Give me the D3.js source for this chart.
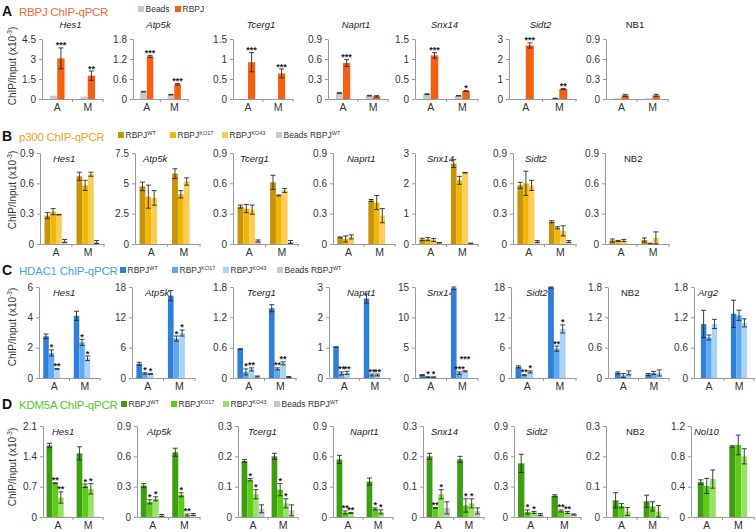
<!DOCTYPE html>
<html><head><meta charset="utf-8">
<script src="https://cdn.jsdelivr.net/npm/d3@7"></script>
<style>body{margin:0;background:#fff}svg{font-family:"Liberation Sans",Arial,sans-serif}</style>
</head><body><svg id="c" width="756" height="532"></svg>
<script>
const groups = ["A","M"];

// ---------- Row A : RBPJ ChIP-qPCR ----------
const seriesA = ["Beads","RBPJ"];
const genesA = ["Hes1","Atp5k","Tcerg1","Naprt1","Snx14","Sidt2","NB1"];
const ymaxA = [4.5,1.8,1.5,0.9,1.5,3,0.9];
const valuesA = [
 [[0.25,3.05],[0.18,1.75]],
 [[0.22,1.28],[0.13,0.44]],
 [[0,0.92],[0,0.64]],
 [[0.09,0.54],[0.05,0.04]],
 [[0.12,1.09],[0.08,0.2]],
 [[0,2.68],[0.03,0.5]],
 [[0.01,0.055],[0.01,0.055]]
];
const errorsA = [
 [[0,0.78],[0,0.35]],
 [[0.01,0.03],[0.01,0.02]],
 [[0,0.24],[0,0.11]],
 [[0.005,0.05],[0.005,0.01]],
 [[0.01,0.07],[0.005,0.01]],
 [[0,0.13],[0.005,0.03]],
 [[0,0.015],[0,0.015]]
];
const starsA = [
 [["","***"],["","**"]],
 [["","***"],["","***"]],
 [["","***"],["","***"]],
 [["","***"],["",""]],
 [["","***"],["","*"]],
 [["","***"],["","**"]],
 [["",""],["",""]]
];

// ---------- Row B : p300 ChIP-qPCR ----------
const seriesB = ["WT","KO17","KO43","Beads"];
const genesB = ["Hes1","Atp5k","Tcerg1","Naprt1","Snx14","Sidt2","NB2"];
const ymaxB = [0.9,7.5,0.9,0.9,3,0.9,0.9];
const valuesB = [
 [[0.28,0.32,0.29,0.03],[0.67,0.58,0.69,0.02]],
 [[4.75,3.9,3.8,0],[5.8,4.1,5.15,0]],
 [[0.37,0.35,0.34,0.03],[0.61,0.48,0.53,0.02]],
 [[0.065,0.05,0.07,0],[0.43,0.41,0.28,0]],
 [[0.15,0.16,0.13,0.04],[2.65,2.1,2.35,0.02]],
 [[0.58,0.6,0.58,0.025],[0.22,0.16,0.13,0.025]],
 [[0.035,0.03,0.035,0],[0.04,0.005,0.06,0]]
];
const errorsB = [
 [[0.03,0.03,0.003,0.015],[0.04,0.05,0.02,0.015]],
 [[0.35,0.95,0.6,0],[0.4,0.3,0.3,0]],
 [[0.015,0.04,0.045,0.01],[0.07,0.005,0.02,0.015]],
 [[0.005,0.03,0.02,0],[0.01,0.07,0.07,0]],
 [[0.04,0.05,0.05,0.01],[0.13,0.13,0.01,0.01]],
 [[0.03,0.12,0.05,0.01],[0.01,0.01,0.05,0.01]],
 [[0.015,0.005,0.01,0],[0.02,0.003,0.06,0]]
];

// ---------- Row C : HDAC1 ChIP-qPCR ----------
const seriesC = ["WT","KO17","KO43","Beads"];
const genesC = ["Hes1","Atp5k","Tcerg1","Naprt1","Snx14","Sidt2","NB2","Arg2"];
const ymaxC = [6,18,1.8,3,15,18,1.8,1.8];
const valuesC = [
 [[2.75,1.65,0.6,0],[4.1,2.35,1.3,0]],
 [[2.8,0.9,0.8,0],[16.3,7.8,8.9,0]],
 [[0.57,0.12,0.17,0.03],[1.38,0.18,0.29,0.02]],
 [[1.02,0.15,0.17,0],[2.62,0.1,0.1,0]],
 [[0.5,0.15,0.15,0],[14.8,0.8,1.1,0]],
 [[2.2,0.6,1.2,0],[17.9,5.8,9.7,0]],
 [[0.1,0.05,0.1],[0.07,0.1,0.1]],
 [[1.07,0.8,1.07],[1.27,1.24,1.09]]
];
const errorsC = [
 [[0.15,0.2,0.02,0],[0.3,0.2,0.15,0]],
 [[0.3,0.15,0.1,0],[1.0,0.5,0.6,0]],
 [[0.01,0.06,0.03,0.01],[0.07,0.02,0.03,0.01]],
 [[0.01,0.05,0.05,0],[0.15,0.03,0.03,0]],
 [[0.05,0.05,0.03,0],[0.2,0.2,0.1,0]],
 [[0.2,0.05,0.2,0],[0.1,0.5,0.8,0]],
 [[0.02,0.04,0.04],[0.02,0.03,0.06]],
 [[0.27,0.05,0.09],[0.27,0.1,0.08]]
];
const starsC = [
 [["","*","**",""],["","*","*",""]],
 [["","*","*",""],["","*","*",""]],
 [["","*","**",""],["","**","**",""]],
 [["","**","**",""],["","**","**",""]],
 [["","*","*",""],["","***","***",""]],
 [["","**","*",""],["","**","*",""]],
 [["","",""],["","",""]],
 [["","",""],["","",""]]
];

// ---------- Row D : KDM5A ChIP-qPCR ----------
const seriesD = ["WT","KO17","KO43","Beads"];
const genesD = ["Hes1","Atp5k","Tcerg1","Naprt1","Snx14","Sidt2","NB2","Nol10"];
const ymaxD = [2.1,0.9,0.3,0.9,0.3,0.9,0.3,1.2];
const valuesD = [
 [[1.65,0.78,0.45,0.01],[1.47,0.72,0.65,0.01]],
 [[0.31,0.15,0.18,0.015],[0.64,0.22,0.02,0.025]],
 [[0.185,0.123,0.075,0.027],[0.2,0.09,0.045,0.022]],
 [[0.57,0.045,0.04,0],[0.35,0.08,0.05,0]],
 [[0.2,0.03,0.075,0.03],[0.19,0.038,0.045,0.02]],
 [[0.53,0.05,0.045,0.025],[0.21,0.06,0.045,0.025]],
 [[0.055,0.037,0.018],[0.052,0.035,0.018]],
 [[0.46,0.41,0.5],[0.93,0.95,0.8]]
];
const errorsD = [
 [[0.05,0.01,0.13,0],[0.15,0.04,0.12,0]],
 [[0.02,0.02,0.02,0.01],[0.04,0.02,0.01,0.01]],
 [[0.005,0.004,0.015,0.013],[0.01,0.02,0.015,0.018]],
 [[0.04,0.015,0.005,0],[0.035,0.01,0.02,0]],
 [[0.01,0.001,0.015,0.02],[0.01,0.022,0.015,0.01]],
 [[0.09,0.02,0.01,0.01],[0.01,0.01,0.01,0.005]],
 [[0.025,0.007,0.013],[0.02,0.015,0.02]],
 [[0.03,0.1,0.12],[0.01,0.13,0.1]]
];
const starsD = [
 [["","**","**",""],["","*","*",""]],
 [["","*","*",""],["","*","**",""]],
 [["","*","*",""],["","*","*",""]],
 [["","**","**",""],["","*","*",""]],
 [["","**","*",""],["","*","*",""]],
 [["","*","*",""],["","**","**",""]],
 [["","",""],["","",""]],
 [["","",""],["","",""]]
];

// ---------- layout & style (separate from data) ----------
const rows = [
 {letter:"A", title:"RBPJ ChIP-qPCR", titleColor:"#f26a2e", baseY:16,
  series:seriesA, genes:genesA, ymax:ymaxA, values:valuesA, errors:errorsA, stars:starsA,
  colors:["#c3cbcb","#f75f12"], legendX:[138,175], legendY:9, legendLabels:[["Beads",""],["RBPJ",""]],
  top:39, bottom:99, x0:[42,133,233,328,415,509,606], w:[61,55,60,60,63,67,62],
  titleInside:false, barFrac:0.24, ylabY:66},
 {letter:"B", title:"p300 ChIP-qPCR", titleColor:"#e6a520", baseY:141,
  series:seriesB, genes:genesB, ymax:ymaxB, values:valuesB, errors:errorsB, stars:null,
  colors:["#c8920c","#f2b705","#fdcc58","#c3cbcb"], legendX:[118,170,222,276], legendY:135,
  legendLabels:[["RBPJ","WT"],["RBPJ","KO17"],["RBPJ","KO43"],["Beads RBPJ","WT"]],
  top:153, bottom:244, x0:[40,135,233,333,415,513,605], w:[64,65,65,62,63,63,64],
  titleInside:true, titleOff:[13,8,7,14,12,12,19], barFrac:0.18, ylabY:190},
 {letter:"C", title:"HDAC1 ChIP-qPCR", titleColor:"#4d9fe8", baseY:275,
  series:seriesC, genes:genesC, ymax:ymaxC, values:valuesC, errors:errorsC, stars:starsC,
  colors:["#2f7fd8","#5eaaf2","#a9d3f8","#c3cbcb"], legendX:[120,172,223,277], legendY:270,
  legendLabels:[["RBPJ","WT"],["RBPJ","KO17"],["RBPJ","KO43"],["Beads RBPJ","WT"]],
  top:287, bottom:378, x0:[39,132,233,329,415,511,608,694], w:[61,63,63,61,63,65,61,60],
  titleInside:true, titleOff:[14,13,14,18,12,15,13,4], barFrac:0.18, ylabY:327},
 {letter:"D", title:"KDM5A ChIP-qPCR", titleColor:"#55c72b", baseY:409,
  series:seriesD, genes:genesD, ymax:ymaxD, values:valuesD, errors:errorsD, stars:starsD,
  colors:["#3e9d12","#5acd17","#97e264","#c3cbcb"], legendX:[121,171,223,274], legendY:404,
  legendLabels:[["RBPJ","WT"],["RBPJ","KO17"],["RBPJ","KO43"],["Beads RBPJ","WT"]],
  top:426, bottom:517, x0:[43,137,238,333,423,514,606,691], w:[60,63,60,60,61,67,62,63],
  titleInside:true, titleOff:[9,10,10,17,8,12,20,3], barFrac:0.19, ylabY:467}
];

const svg = d3.select("#c");
const axisCol = "#9a9a9a", textCol = "#333";
const fmt = v => String(+v.toFixed(3));
const FF = "Liberation Sans, Arial, sans-serif";
const starW = 3.5; // approx width of one asterisk at 9px

rows.forEach(r => {
  // panel letter + title
  svg.append("text").attr("x",2).attr("y",r.baseY).attr("font-size",14).attr("font-weight","bold")
    .attr("fill","#111").text(r.letter);
  svg.append("text").attr("x",19).attr("y",r.baseY).attr("font-size",11.5).attr("letter-spacing",-0.25)
    .attr("fill",r.titleColor).text(r.title);
  // legend
  r.legendLabels.forEach((lab,i) => {
    const lx = r.legendX[i];
    svg.append("rect").attr("x",lx).attr("y",r.legendY-3).attr("width",6).attr("height",6).attr("fill",r.colors[i]);
    const t = svg.append("text").attr("x",lx+7.5).attr("y",r.legendY+3).attr("font-size",8.5).attr("fill",textCol);
    t.append("tspan").text(lab[0]);
    if (lab[1]) t.append("tspan").attr("dy",-3.5).attr("font-size",5.5).text(lab[1]);
  });
  // y label
  const yl = svg.append("text").attr("transform",`translate(16,${r.ylabY}) rotate(-90)`)
    .attr("text-anchor","middle").attr("font-size",10).attr("fill",textCol);
  yl.append("tspan").text("ChIP/Input (x10");
  yl.append("tspan").attr("dy",-4).attr("font-size",6.5).text("-3");
  yl.append("tspan").attr("dy",4).text(")");

  r.genes.forEach((g,gi) => {
    const x0 = r.x0[gi], w = r.w[gi];
    const y = d3.scaleLinear().domain([0, r.ymax[gi]]).range([r.bottom, r.top]);
    const x = d3.scaleBand().domain(groups).range([x0, x0+w]).padding(0);
    const ticks = [0,1,2,3].map(i => +(r.ymax[gi]*i/3).toFixed(3));
    const gy = svg.append("g").attr("transform",`translate(${x0},0)`)
      .call(d3.axisLeft(y).tickValues(ticks).tickFormat(fmt).tickSize(3).tickSizeOuter(0));
    gy.select(".domain").attr("stroke",axisCol);
    gy.selectAll(".tick line").attr("stroke",axisCol);
    gy.selectAll(".tick text").attr("fill",textCol).attr("font-size",10).attr("font-family",FF);
    // x axis
    const gx = svg.append("g").attr("transform",`translate(0,${r.bottom})`)
      .call(d3.axisBottom(x).tickSize(0).tickPadding(5));
    gx.select(".domain").attr("stroke",axisCol);
    gx.selectAll(".tick text").attr("fill",textCol).attr("font-size",10.5).attr("font-family",FF);
    svg.append("line").attr("x1",x0+w/2).attr("x2",x0+w/2).attr("y1",r.bottom).attr("y2",r.bottom+3).attr("stroke",axisCol);
    svg.append("line").attr("x1",x0+w).attr("x2",x0+w).attr("y1",r.bottom).attr("y2",r.bottom+3).attr("stroke",axisCol);

    // gene title
    if (r.titleInside) {
      svg.append("text").attr("x",x0+r.titleOff[gi]).attr("y",r.top+9).attr("font-size",9.5)
        .attr("font-style",g.startsWith("NB")?"normal":"italic").attr("fill","#222").text(g);
    } else {
      svg.append("text").attr("x",x0+w/2-2).attr("y",r.top-11).attr("text-anchor","middle").attr("font-size",9.5)
        .attr("font-style",g.startsWith("NB")?"normal":"italic").attr("fill","#222").text(g);
    }

    // bars
    const bw = x.bandwidth()*r.barFrac;
    groups.forEach((grp,ki) => {
      const vals = r.values[gi][ki], errs = r.errors[gi][ki];
      const n = vals.length;
      const cx = x(grp) + x.bandwidth()/2;
      const start = cx - n*bw/2;
      let last = null;
      vals.forEach((v,si) => {
        const bx = start + si*bw;
        svg.append("rect").attr("x",bx).attr("y",y(v)).attr("width",bw).attr("height",Math.max(0,r.bottom-y(v)))
          .attr("fill",r.colors[si]);
        const e = errs[si];
        if (e > 0) {
          const mx = bx + bw/2;
          const eg = svg.append("g").attr("stroke","#2a2a2a").attr("stroke-width",0.9);
          eg.append("line").attr("x1",mx).attr("x2",mx).attr("y1",y(v+e)).attr("y2",y(Math.max(0,v-e)));
          eg.append("line").attr("x1",mx-2.5).attr("x2",mx+2.5).attr("y1",y(v+e)).attr("y2",y(v+e));
          eg.append("line").attr("x1",mx-2.5).attr("x2",mx+2.5).attr("y1",y(Math.max(0,v-e))).attr("y2",y(Math.max(0,v-e)));
        }
        if (r.stars) {
          const s = r.stars[gi][ki][si];
          if (s) {
            const sx = bx + bw/2, sw = s.length*starW;
            let sy = y(v+e) + 0.5;
            if (last && (last.w + sw)/2 > (sx - last.x) + 2 && Math.abs(sy - last.y) < 10) sy = last.y - 10;
            svg.append("text").attr("x",sx).attr("y",sy).attr("text-anchor","middle")
              .attr("font-size",9).attr("font-weight","bold").attr("fill","#222").text(s);
            last = {x:sx, y:sy, w:sw};
          }
        }
      });
    });
  });
});
</script></body></html>
